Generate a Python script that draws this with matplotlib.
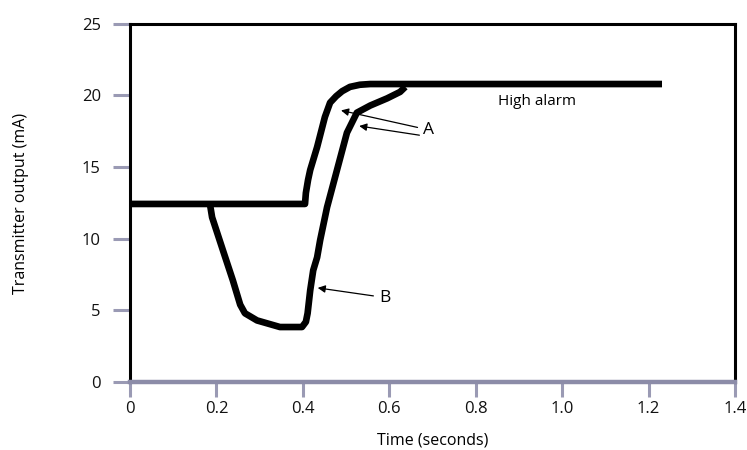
import matplotlib
matplotlib.use("Agg")
import matplotlib.pyplot as plt

plt.rcParams['font.family'] = ['Open Sans', 'DejaVu Sans']

# Curve A (step response reaching high alarm)
a_time = [0.0, 0.405, 0.407, 0.412, 0.417, 0.433, 0.451, 0.463, 0.477, 0.491, 0.509, 0.532, 0.556, 1.231]
a_ma = [12.43, 12.43, 13.2, 14.1, 14.8, 16.4, 18.5, 19.5, 19.95, 20.3, 20.6, 20.75, 20.8, 20.8]

# Curve B (dip then rise)
b_time = [0.185, 0.190, 0.215, 0.238, 0.255, 0.266, 0.294, 0.347, 0.398, 0.407, 0.411,
          0.417, 0.424, 0.433, 0.440, 0.456, 0.479, 0.502, 0.525, 0.556, 0.595,
          0.625, 0.637]
b_ma = [12.43, 11.5, 9.2, 7.1, 5.4, 4.8, 4.3, 3.84, 3.84, 4.2, 4.8,
        6.4, 7.8, 8.7, 9.9, 12.2, 14.8, 17.4, 18.8, 19.3, 19.8,
        20.25, 20.6]

x_ticks = [0, 0.2, 0.4, 0.6, 0.8, 1.0, 1.2, 1.4]
x_labels = ["0", "0.2", "0.4", "0.6", "0.8", "1.0", "1.2", "1.4"]
y_ticks = [0, 5, 10, 15, 20, 25]
y_labels = ["0", "5", "10", "15", "20", "25"]

fig = plt.figure(figsize=(7.47, 4.5), dpi=100)
ax = fig.add_axes([0.174, 0.151, 0.81, 0.796])

ax.plot(a_time, a_ma, color='black', lw=4.8, solid_joinstyle='round', solid_capstyle='butt')
ax.plot(b_time, b_ma, color='black', lw=4.8, solid_joinstyle='round', solid_capstyle='butt')

ax.set_xlim(0, 1.4)
ax.set_ylim(0, 25)
ax.set_xticks(x_ticks)
ax.set_xticklabels(x_labels)
ax.set_yticks(y_ticks)
ax.set_yticklabels(y_labels)

for s in ['left', 'top', 'right']:
    ax.spines[s].set_color('black')
    ax.spines[s].set_linewidth(2.2)
ax.spines['bottom'].set_color('#8c8ca8')
ax.spines['bottom'].set_linewidth(3.2)
ax.spines['bottom'].set_zorder(5)

ax.tick_params(axis='both', direction='out', color='#9a9ab4', width=2.2,
               labelsize=12, labelcolor='#111111')
ax.tick_params(axis='y', length=12, pad=9)
ax.tick_params(axis='x', length=11, pad=3)

ax.set_xlabel("Time (seconds)", fontsize=11.5, labelpad=11)
ax.set_ylabel("Transmitter output (mA)", fontsize=11.5, labelpad=38)

ax.text(0.852, 19.6, "High alarm", fontsize=11, va='center', ha='left')

arrow = dict(arrowstyle='-|>', color='black', lw=0.9, mutation_scale=11)
ax.annotate("A", xy=(0.482, 19.0), xytext=(0.678, 17.6), fontsize=12.5,
            va='center', ha='left', arrowprops=arrow)
ax.annotate("", xy=(0.524, 17.9), xytext=(0.676, 17.2), arrowprops=arrow)
ax.annotate("B", xy=(0.428, 6.6), xytext=(0.576, 5.9), fontsize=12.5,
            va='center', ha='left', arrowprops=arrow)

fig.savefig("out.png", dpi=100)
